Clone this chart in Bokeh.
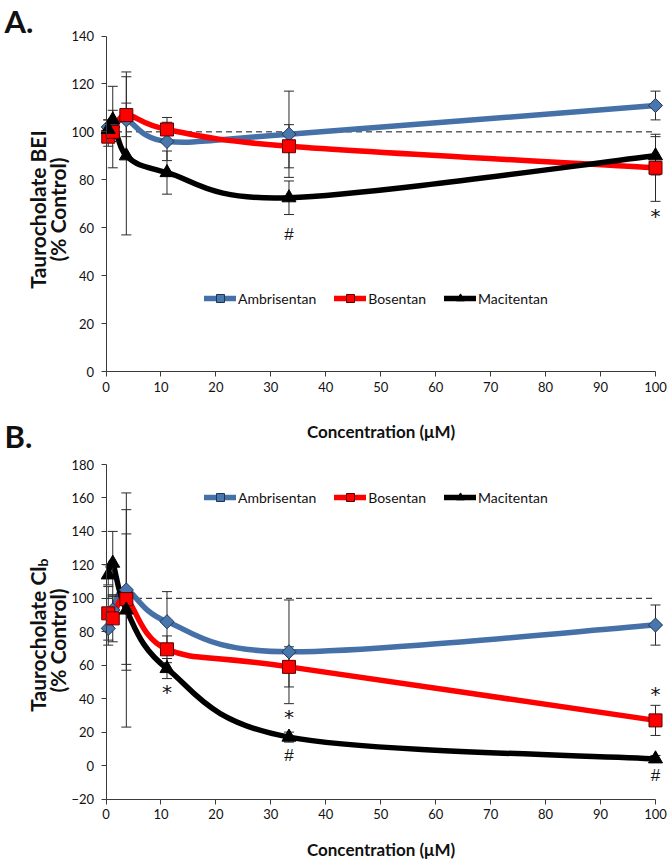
import numpy as np
from bokeh.plotting import figure
from bokeh.models import Legend, LegendItem, Label, Range1d, FixedTicker
from bokeh.layouts import column
from bokeh.embed import file_html
from bokeh.resources import INLINE
from bokeh.core.properties import value

# ---------------- data ----------------
conc = [0.41, 1.23, 3.7, 11.1, 33.3, 100]
x_ticks = [0, 10, 20, 30, 40, 50, 60, 70, 80, 90, 100]
a_y_ticks = [0, 20, 40, 60, 80, 100, 120, 140]
b_y_ticks = [-20, 0, 20, 40, 60, 80, 100, 120, 140, 160, 180]
control_level = 100
series_names = ["Ambrisentan", "Bosentan", "Macitentan"]

# Panel A: Taurocholate BEI (% control)
a_ambrisentan = [102, 102, 105, 96, 99, 111]
a_ambrisentan_err = [3, 17, 7, 8, 18, 6]
a_bosentan = [98, 100, 107, 101, 94, 85]
a_bosentan_err = [4, 4, 18, 5, 9, 14]
a_macitentan = [101, 105, 90, 83, 72.5, 90]
a_macitentan_err = [4, 4, 33, 9, 7, 8]
a_sig_x = [33.3, 100]
a_sig_y = [57, 65]
a_sig_text = ["#", "*"]

# Panel B: Taurocholate Cl_b (% control)
b_ambrisentan = [82, 93, 105, 86, 68, 84]
b_ambrisentan_err = [10, 8, 48, 18, 31, 12]
b_bosentan = [91, 88, 99.5, 69.5, 59, 27]
b_bosentan_err = [16, 14, 39, 8, 12, 9]
b_macitentan = [114, 121, 93, 58, 17, 4]
b_macitentan_err = [6, 19, 70, 6, 3, 2]
b_sig_x = [11.1, 33.3, 33.3, 100, 100]
b_sig_y = [44, 29, 6, 43, -6]
b_sig_text = ["*", "*", "#", "*", "#"]

# ---------------- styles / layout ----------------
FONT = "Lato"
AXIS_COLOR = "#3a3a3a"
STYLE = {
    "Ambrisentan": dict(line="#4571A8", marker="square", angle=np.pi / 4, size=10,
                        fill="#4A76AE", outline="#1E3557"),
    "Bosentan": dict(line="#FF0000", marker="square", angle=0.0, size=13,
                     fill="#FF0000", outline="#5A0000"),
    "Macitentan": dict(line="#000000", marker="triangle", angle=0.0, size=14,
                       fill="#000000", outline="#000000"),
}
SIG_STYLE = {"*": dict(font="DejaVu Sans", size="20px"),
             "#": dict(font="Liberation Sans", size="17px")}

W = 672
X0_PX, X100_PX = 105.5, 655.0          # page px of x = 0 and x = 100
PX_PER_X = (X100_PX - X0_PX) / 100.0


def xp(px):
    return (px - X0_PX) / PX_PER_X


XL, XR = xp(0), xp(W)


def smooth(xs, ys):
    """Bezier control points (Catmull-Rom style), like a spreadsheet's smoothed line."""
    n = len(xs)
    P = list(zip(xs, ys))
    out = {k: [] for k in ["x0", "y0", "x1", "y1", "cx0", "cy0", "cx1", "cy1"]}
    for i in range(n - 1):
        p0 = P[i - 1] if i > 0 else P[i]
        p1 = P[i]
        p2 = P[i + 1]
        p3 = P[i + 2] if i + 2 < n else P[i + 1]
        out["x0"].append(p1[0]); out["y0"].append(p1[1])
        out["x1"].append(p2[0]); out["y1"].append(p2[1])
        out["cx0"].append(p1[0] + (p2[0] - p0[0]) / 6)
        out["cy0"].append(p1[1] + (p2[1] - p0[1]) / 6)
        out["cx1"].append(p2[0] - (p3[0] - p1[0]) / 6)
        out["cy1"].append(p2[1] - (p3[1] - p1[1]) / 6)
    return out


def make_panel(data, y_ticks, page_top, height, ypx, xlabel_standoff, legend_loc,
               sig_x, sig_y, sig_text):
    # ypx: function page-pixel -> data y for this panel; the frame fills the whole canvas
    p = figure(width=W, height=height, x_range=Range1d(XL, XR),
               y_range=Range1d(ypx(page_top + height), ypx(page_top)),
               output_backend="svg", toolbar_location=None,
               min_border_left=0, min_border_right=0, min_border_top=0,
               min_border_bottom=0)
    p.outline_line_color = None
    p.grid.visible = False

    for ax in (p.xaxis[0], p.yaxis[0]):
        ax.axis_line_color = AXIS_COLOR
        ax.axis_line_width = 1
        ax.major_tick_line_color = AXIS_COLOR
        ax.minor_tick_line_color = None
        ax.major_tick_in = 0
        ax.major_tick_out = 5
        ax.major_label_text_font = FONT
        ax.major_label_text_font_size = "13px"
        ax.major_label_text_color = "#111111"
    p.xaxis.ticker = FixedTicker(ticks=x_ticks)
    p.xaxis.bounds = (x_ticks[0], x_ticks[-1])
    p.xaxis.fixed_location = y_ticks[0]
    p.xaxis.major_label_standoff = 5
    p.yaxis.ticker = FixedTicker(ticks=y_ticks)
    p.yaxis.bounds = (y_ticks[0], y_ticks[-1])
    p.yaxis.fixed_location = x_ticks[0]
    p.yaxis.major_label_standoff = 7
    p.xaxis.axis_label = "Concentration (\u03bcM)"
    p.xaxis.axis_label_text_font = FONT
    p.xaxis.axis_label_text_font_style = "bold"
    p.xaxis.axis_label_text_font_size = "17px"
    p.xaxis.axis_label_text_color = "#111111"
    p.xaxis.axis_label_standoff = xlabel_standoff

    # control reference line
    p.line([x_ticks[0], x_ticks[-1]], [control_level, control_level],
           line_color="#111111", line_width=1, line_dash="6 4")

    line_r = {}
    for name in series_names:
        vals, _ = data[name]
        st = STYLE[name]
        line_r[name] = p.bezier(line_color=st["line"], line_width=5.5,
                                line_cap="round", **smooth(conc, vals))

    # error bars
    for name in series_names:
        vals, errs = data[name]
        lo = [v - e for v, e in zip(vals, errs)]
        hi = [v + e for v, e in zip(vals, errs)]
        p.segment(x0=conc, y0=lo, x1=conc, y1=hi, line_color="#2a2a2a", line_width=1)
        p.scatter(x=conc + conc, y=lo + hi, marker="dash", size=10,
                  line_color="#2a2a2a", line_width=1)

    mark_r = {}
    for name in series_names:
        vals, _ = data[name]
        st = STYLE[name]
        mark_r[name] = p.scatter(x=conc, y=vals, marker=st["marker"], size=st["size"],
                                 angle=st["angle"], fill_color=st["fill"],
                                 line_color=st["outline"], line_width=1)

    # significance marks
    for sym, st in SIG_STYLE.items():
        idx = [i for i, t in enumerate(sig_text) if t == sym]
        if idx:
            p.text(x=[sig_x[i] for i in idx], y=[sig_y[i] for i in idx],
                   text=[sig_text[i] for i in idx], text_font=value(st["font"]),
                   text_font_size=st["size"], text_align="center",
                   text_baseline="middle", text_color="#111111")

    items = [LegendItem(label=n, renderers=[line_r[n], mark_r[n]]) for n in series_names]
    legend = Legend(items=items, orientation="horizontal", location=legend_loc,
                    padding=0, margin=0, spacing=18, label_standoff=2,
                    glyph_width=32, glyph_height=20, label_height=20,
                    label_text_font=FONT, label_text_font_size="14px",
                    label_text_color="#111111",
                    border_line_alpha=0, background_fill_alpha=0)
    p.add_layout(legend)
    return p


def label(p, x, y, text, size, align="center", angle=0.0, baseline="middle"):
    p.add_layout(Label(x=x, y=y, text=text, angle=angle, text_font=FONT,
                       text_font_size=size, text_font_style="bold",
                       text_align=align, text_baseline=baseline, text_color="#111111"))


# ---------------- panel A ----------------
A_TOP, A_H = 0, 455
A_Y0_PX, A_Y140_PX = 371.0, 35.5        # page px of y = 0 and y = 140
a_scale = (A_Y0_PX - A_Y140_PX) / 140.0


def ya(py):
    return (A_Y0_PX - py) / a_scale


pa = make_panel({"Ambrisentan": (a_ambrisentan, a_ambrisentan_err),
                 "Bosentan": (a_bosentan, a_bosentan_err),
                 "Macitentan": (a_macitentan, a_macitentan_err)},
                a_y_ticks, A_TOP, A_H, ya, 26, (204, A_TOP + A_H - 308),
                a_sig_x, a_sig_y, a_sig_text)

label(pa, xp(4), ya(20), "A.", "31px", align="left")
label(pa, xp(4), ya(435), "B.", "31px", align="left")
label(pa, xp(37), ya(209), "Taurocholate BEI", "21px", angle=np.pi / 2)
label(pa, xp(57), ya(209), "(% Control)", "21px", angle=np.pi / 2)

# ---------------- panel B ----------------
B_TOP, B_H = A_H, 409
B_YM20_PX, B_Y180_PX = 798.5, 464.0     # page px of y = -20 and y = 180
b_scale = (B_YM20_PX - B_Y180_PX) / 200.0


def yb(py):
    return (B_YM20_PX - py) / b_scale - 20


pb = make_panel({"Ambrisentan": (b_ambrisentan, b_ambrisentan_err),
                 "Bosentan": (b_bosentan, b_bosentan_err),
                 "Macitentan": (b_macitentan, b_macitentan_err)},
                b_y_ticks, B_TOP, B_H, yb, 16, (204, B_TOP + B_H - 507),
                b_sig_x, b_sig_y, b_sig_text)

label(pb, xp(37), yb(566), "Taurocholate Cl", "21px", align="right", angle=np.pi / 2)
label(pb, xp(42), yb(566), "b", "14px", align="left", angle=np.pi / 2)
label(pb, xp(57), yb(640), "(% Control)", "21px", angle=np.pi / 2)

layout = column(pa, pb, spacing=0)
open("out.html", "w").write(file_html(layout, INLINE))
